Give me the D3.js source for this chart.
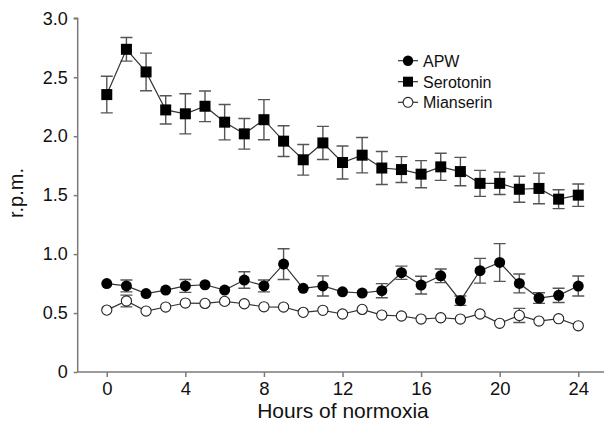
<!DOCTYPE html>
<html>
<head>
<meta charset="utf-8">
<script src="https://cdn.jsdelivr.net/npm/d3@7"></script>
<style>
  html, body { margin: 0; padding: 0; background: #fff; }
  svg { display: block; font-family: "Liberation Sans", Arial, Helvetica, sans-serif; }
</style>
</head>
<body>
<svg id="chart" width="604" height="426"></svg>
<script>
const hours = d3.range(0, 25);
const apw = [0.75, 0.73, 0.665, 0.695, 0.73, 0.74, 0.695, 0.78, 0.73, 0.915, 0.71, 0.73,
             0.68, 0.67, 0.69, 0.842, 0.737, 0.816, 0.605, 0.859, 0.929, 0.751, 0.627, 0.65, 0.729];
const apwErr = [0, 0.05, 0, 0, 0.055, 0, 0, 0.07, 0.05, 0.13, 0, 0.085,
                0, 0, 0.06, 0.056, 0.075, 0.058, 0.04, 0.105, 0.16, 0.08, 0.045, 0.06, 0.085];
const serotonin = [2.353, 2.737, 2.545, 2.223, 2.19, 2.254, 2.119, 2.02, 2.14, 1.958, 1.80, 1.943,
                   1.777, 1.839, 1.73, 1.717, 1.678, 1.74, 1.70, 1.60, 1.60, 1.55, 1.557, 1.466, 1.50];
const serotoninErr = [0.155, 0.10, 0.16, 0.12, 0.17, 0.13, 0.15, 0.13, 0.17, 0.13, 0.13, 0.14,
                      0.14, 0.15, 0.14, 0.11, 0.115, 0.115, 0.12, 0.11, 0.095, 0.11, 0.13, 0.08, 0.095];
const mianserin = [0.525, 0.602, 0.517, 0.551, 0.585, 0.582, 0.599, 0.579, 0.553, 0.551, 0.506, 0.523,
                   0.492, 0.531, 0.483, 0.475, 0.449, 0.46, 0.449, 0.492, 0.413, 0.48, 0.432, 0.452, 0.392];
const mianserinErr = [0, 0.05, 0, 0, 0, 0, 0, 0, 0, 0, 0, 0,
                      0, 0, 0, 0, 0, 0, 0, 0, 0, 0.06, 0, 0, 0];
const xTicks = [0, 4, 8, 12, 16, 20, 24];
const yTicks = [0, 0.5, 1.0, 1.5, 2.0, 2.5, 3.0];
const yTickLabels = ["0", "0.5", "1.0", "1.5", "2.0", "2.5", "3.0"];
const seriesNames = ["APW", "Serotonin", "Mianserin"];

const svg = d3.select("#chart");
const x = d3.scaleLinear().domain([-1.48, 25.31]).range([77.7, 604]);
const y = d3.scaleLinear().domain([0, 3]).range([372, 18.3]);

const axisColor = "#7a7a7a";

// Y axis
const yAxis = svg.append("g").attr("transform", `translate(${x(-1.48)},0)`)
  .call(d3.axisLeft(y).tickValues(yTicks).tickFormat((d, i) => yTickLabels[i]).tickSize(4).tickPadding(6));
yAxis.select(".domain").attr("stroke", axisColor).attr("stroke-width", 1.5).attr("d", `M0,${y(0)}V${y(3)}H-4`);
yAxis.selectAll(".tick line").attr("stroke", axisColor).attr("stroke-width", 1.5);
yAxis.selectAll(".tick text").attr("font-size", 18).attr("fill", "#111")
  .attr("font-family", "'Liberation Sans', Arial, sans-serif");

// X axis
const xAxis = svg.append("g").attr("transform", `translate(0,${y(0)})`)
  .call(d3.axisBottom(x).tickValues(xTicks).tickSize(5).tickPadding(5));
xAxis.select(".domain").attr("stroke", axisColor).attr("stroke-width", 1.5).attr("d", `M${x(-1.48)},0H${x(25.31)}`);
xAxis.selectAll(".tick line").attr("stroke", axisColor).attr("stroke-width", 1.5);
xAxis.selectAll(".tick text").attr("font-size", 18.5).attr("fill", "#111")
  .attr("font-family", "'Liberation Sans', Arial, sans-serif");

// Axis titles
svg.append("text").attr("x", 343).attr("y", 418).attr("text-anchor", "middle")
  .attr("font-size", 21).attr("fill", "#111").text("Hours of normoxia");
svg.append("text").attr("transform", "translate(23,193) rotate(-90)").attr("text-anchor", "middle")
  .attr("font-size", 20).attr("fill", "#111").text("r.p.m.");

const lineGen = d3.line().x((d, i) => x(hours[i])).y(d => y(d));

function drawSeries(vals, errs, shape) {
  const g = svg.append("g");
  // error bars
  const eb = g.append("g").attr("stroke", "#555").attr("stroke-width", 1.4).attr("fill", "none");
  vals.forEach((v, i) => {
    const e = errs[i];
    if (!e) return;
    const cx = x(hours[i]);
    const y1 = y(v + e), y2 = y(v - e);
    eb.append("path").attr("d", `M${cx},${y1}V${y2}M${cx - 6},${y1}H${cx + 6}M${cx - 6},${y2}H${cx + 6}`);
  });
  g.append("path").datum(vals).attr("d", lineGen).attr("fill", "none")
    .attr("stroke", "#333").attr("stroke-width", 1.2);
  vals.forEach((v, i) => {
    const cx = x(hours[i]), cy = y(v);
    if (shape === "square") {
      g.append("rect").attr("x", cx - 5.5).attr("y", cy - 5.5).attr("width", 11).attr("height", 11)
        .attr("fill", "#000");
    } else if (shape === "filled") {
      g.append("circle").attr("cx", cx).attr("cy", cy).attr("r", 5.5).attr("fill", "#000");
    } else {
      g.append("circle").attr("cx", cx).attr("cy", cy).attr("r", 5.1).attr("fill", "#fff")
        .attr("stroke", "#222").attr("stroke-width", 1.1);
    }
  });
}

drawSeries(serotonin, serotoninErr, "square");
drawSeries(mianserin, mianserinErr, "open");
drawSeries(apw, apwErr, "filled");

// Legend
const legendShapes = ["filled", "square", "open"];
const legendY = [60.7, 81.7, 102.3];
const lg = svg.append("g");
seriesNames.forEach((name, i) => {
  const ly = legendY[i];
  lg.append("line").attr("x1", 398).attr("x2", 418).attr("y1", ly).attr("y2", ly)
    .attr("stroke", "#333").attr("stroke-width", 1.2);
  const s = legendShapes[i];
  if (s === "square") {
    lg.append("rect").attr("x", 408 - 5).attr("y", ly - 5).attr("width", 10).attr("height", 10).attr("fill", "#000");
  } else if (s === "filled") {
    lg.append("circle").attr("cx", 408).attr("cy", ly).attr("r", 5.2).attr("fill", "#000");
  } else {
    lg.append("circle").attr("cx", 408).attr("cy", ly).attr("r", 4.9).attr("fill", "#fff")
      .attr("stroke", "#222").attr("stroke-width", 1.1);
  }
  lg.append("text").attr("x", 423).attr("y", ly + 5.8).attr("font-size", 16).attr("fill", "#111").text(name);
});
</script>
</body>
</html>
